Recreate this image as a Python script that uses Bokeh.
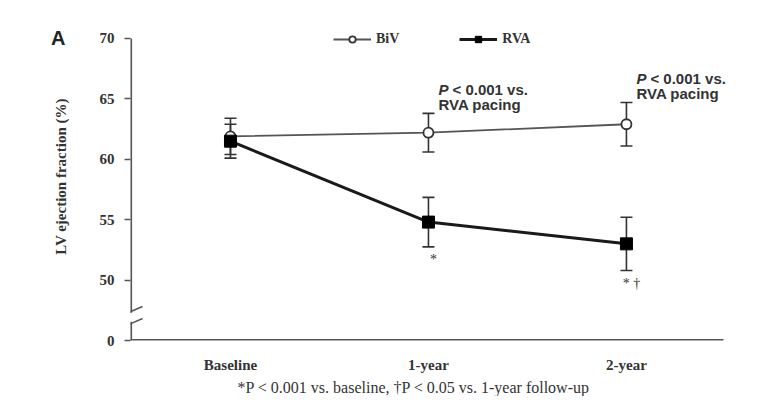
from bokeh.plotting import figure
from bokeh.models import (ColumnDataSource, Whisker, TeeHead, FixedTicker, Legend,
                          LegendItem, Label, LinearAxis, Title)
from bokeh.embed import file_html
from bokeh.resources import INLINE

# ---- data ----
categories = ["Baseline", "1-year", "2-year"]
biv_mean = [61.9, 62.2, 62.9]
biv_err = [1.5, 1.6, 1.8]
rva_mean = [61.5, 54.8, 53.0]
rva_err = [1.4, 2.05, 2.2]
y_ticks = [45, 50, 55, 60, 65, 70]
y_tick_labels = ["0", "50", "55", "60", "65", "70"]
p_note = ["", "P < 0.001 vs.", "P < 0.001 vs."]
rva_marks = ["", "*", "* \u2020"]
footnote = "*P < 0.001 vs. baseline, \u2020P < 0.05 vs. 1-year follow-up"

xs = list(range(len(categories)))
biv_src = ColumnDataSource(dict(x=xs, y=biv_mean,
                                lo=[m - e for m, e in zip(biv_mean, biv_err)],
                                hi=[m + e for m, e in zip(biv_mean, biv_err)]))
rva_src = ColumnDataSource(dict(x=xs, y=rva_mean,
                                lo=[m - e for m, e in zip(rva_mean, rva_err)],
                                hi=[m + e for m, e in zip(rva_mean, rva_err)]))

X0, X1, XEND = -0.505, 2.49, 2.662
Y0, Y1, YEND = 45, 70, 72.15
p = figure(width=759, height=396, x_range=(X0, XEND), y_range=(Y0, YEND),
           output_backend="svg", toolbar_location=None,
           min_border_left=130, min_border_right=2, min_border_top=12, min_border_bottom=56)
p.background_fill_color = "white"
p.border_fill_color = "white"
p.outline_line_color = None
p.grid.visible = False

SERIF = "Liberation Serif"
SANS = "Liberation Sans"
AX = "#555555"
TXT = "#333333"

# axes (library ticks and labels; axis lines drawn to the data extent below)
p.yaxis.ticker = FixedTicker(ticks=y_ticks)
p.yaxis.major_label_overrides = {t: l for t, l in zip(y_ticks, y_tick_labels)}
p.yaxis.minor_tick_line_color = None
p.yaxis.major_tick_out = 6
p.yaxis.major_tick_in = 0
p.yaxis.major_tick_line_color = AX
p.yaxis.major_tick_line_width = 1.5
p.yaxis.major_label_standoff = 10
p.yaxis.axis_label = "LV ejection fraction (%)"
p.yaxis.axis_label_standoff = 28
p.xaxis.ticker = FixedTicker(ticks=xs)
p.xaxis.major_label_overrides = {i: c for i, c in enumerate(categories)}
p.xaxis.major_tick_line_color = None
p.xaxis.minor_tick_line_color = None
p.xaxis.major_label_standoff = 10
for ax in (p.xaxis, p.yaxis):
    ax.axis_line_color = None
    ax.major_label_text_font = SERIF
    ax.major_label_text_font_style = "bold"
    ax.major_label_text_font_size = "15px"
    ax.major_label_text_color = TXT
    ax.axis_label_text_font = SERIF
    ax.axis_label_text_font_style = "bold"
    ax.axis_label_text_font_size = "15px"
    ax.axis_label_text_color = TXT

# panel letter as an outer left axis label
letter_axis = LinearAxis(ticker=FixedTicker(ticks=[Y1]), major_label_overrides={Y1: "A"},
                         axis_line_color=None, major_tick_line_color=None,
                         minor_tick_line_color=None, major_label_standoff=-22,
                         major_label_text_font=SANS, major_label_text_font_style="bold",
                         major_label_text_font_size="20px", major_label_text_color="#222222")
p.add_layout(letter_axis, "left")

# axis lines with a break on the y axis
p.segment(x0=[X0, X0, X0], y0=[Y0, 47.3, Y0], x1=[X0, X0, X1], y1=[46.55, Y1, Y0],
          line_color=AX, line_width=3.2)
p.segment(x0=[-0.561, -0.561], y0=[46.99, 45.99], x1=[-0.444, -0.444], y1=[47.81, 46.82],
          line_color=AX, line_width=1.5)

# error bars
for src in (biv_src, rva_src):
    w = Whisker(source=src, base="x", lower="lo", upper="hi", dimension="height",
                line_color="#333333", line_width=1.6, level="underlay",
                upper_head=TeeHead(size=12, line_color="#333333", line_width=1.6),
                lower_head=TeeHead(size=12, line_color="#333333", line_width=1.6))
    p.add_layout(w)

biv_line = p.line("x", "y", source=biv_src, line_color="#555555", line_width=1.8)
biv_pts = p.scatter("x", "y", source=biv_src, marker="circle", size=10,
                    fill_color="white", line_color="#333333", line_width=1.8)
rva_line = p.line("x", "y", source=rva_src, line_color="#1a1a1a", line_width=3)
rva_pts = p.scatter("x", "y", source=rva_src, marker="square", size=12,
                    fill_color="black", line_color="black")

legend = Legend(items=[LegendItem(label="BiV", renderers=[biv_line, biv_pts]),
                       LegendItem(label="RVA", renderers=[rva_line, rva_pts])],
                orientation="horizontal", location=(203, 293),
                glyph_width=38, glyph_height=16, label_standoff=5, spacing=60,
                padding=0, margin=0, border_line_color=None, background_fill_alpha=0,
                label_text_font=SERIF, label_text_font_style="bold",
                label_text_font_size="14px", label_text_color=TXT)
p.add_layout(legend)

# P-value notes above BiV
for i in xs:
    if not p_note[i]:
        continue
    top = biv_mean[i] + biv_err[i]
    pre, rest = p_note[i].split(" ", 1)
    p.add_layout(Label(x=i, y=top, x_offset=10, y_offset=24, text=pre,
                       text_font=SANS, text_font_style="bold italic", text_font_size="15px",
                       text_color=TXT, text_baseline="middle", text_align="left"))
    p.add_layout(Label(x=i, y=top, x_offset=24, y_offset=24, text=rest,
                       text_font=SANS, text_font_style="bold", text_font_size="15px",
                       text_color=TXT, text_baseline="middle", text_align="left"))
    p.add_layout(Label(x=i, y=top, x_offset=10, y_offset=9, text="RVA pacing",
                       text_font=SANS, text_font_style="bold", text_font_size="15px",
                       text_color=TXT, text_baseline="middle", text_align="left"))

# significance marks below RVA
for i in xs:
    if not rva_marks[i]:
        continue
    bot = rva_mean[i] - rva_err[i]
    p.add_layout(Label(x=i, y=bot, x_offset=5, y_offset=-13, text=rva_marks[i],
                       text_font=SERIF, text_font_size="14px", text_color=TXT,
                       text_baseline="middle", text_align="center"))

# footnote
p.add_layout(Title(text=footnote, align="left", offset=107, standoff=2,
                   text_font=SERIF, text_font_style="normal", text_font_size="16px",
                   text_color=TXT), "below")

open("out.html", "w").write(file_html(p, INLINE))
